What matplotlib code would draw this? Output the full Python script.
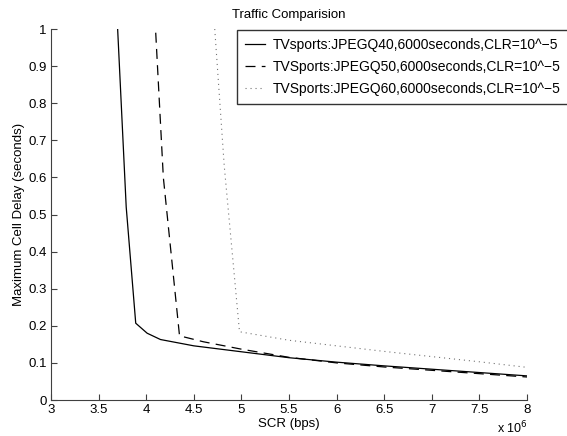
import matplotlib
matplotlib.use("Agg")
import matplotlib.pyplot as plt

plt.rcParams['font.family'] = ['Liberation Sans', 'DejaVu Sans']

# data (SCR in units of 1e6 bps, delay in seconds)
scr_q40 = [3.70, 3.79, 3.89, 4.01, 4.15, 4.5, 5.0, 5.5, 6.0, 6.5, 7.0, 7.5, 8.0]
delay_q40 = [1.0, 0.52, 0.207, 0.180, 0.163, 0.146, 0.130, 0.114, 0.102, 0.092, 0.083, 0.074, 0.065]

scr_q50 = [4.10, 4.18, 4.35, 4.6, 5.0, 5.5, 6.0, 6.5, 7.0, 7.5, 8.0]
delay_q50 = [0.99, 0.60, 0.173, 0.157, 0.137, 0.115, 0.100, 0.089, 0.080, 0.071, 0.062]

scr_q60 = [4.72, 4.82, 4.98, 5.5, 6.0, 6.5, 7.0, 7.5, 8.0]
delay_q60 = [1.0, 0.63, 0.184, 0.161, 0.146, 0.131, 0.117, 0.103, 0.088]

labels = ["TVsports:JPEGQ40,6000seconds,CLR=10^\u22125",
          "TVSports:JPEGQ50,6000seconds,CLR=10^\u22125",
          "TVSports:JPEGQ60,6000seconds,CLR=10^\u22125"]

xticks = [3, 3.5, 4, 4.5, 5, 5.5, 6, 6.5, 7, 7.5, 8]
yticks = [0, 0.1, 0.2, 0.3, 0.4, 0.5, 0.6, 0.7, 0.8, 0.9, 1]

W, H = 567, 436
fig = plt.figure(figsize=(W / 100, H / 100), dpi=100)
ax = fig.add_axes([51 / W, 1 - 400 / H, (527 - 51) / W, (400 - 29) / H])

l1, = ax.plot(scr_q40, delay_q40, color='black', lw=0.9, linestyle='-')
l2, = ax.plot(scr_q50, delay_q50, color='black', lw=0.9, linestyle=(0, (8, 5)))
l3, = ax.plot(scr_q60, delay_q60, color='0.45', lw=0.8, linestyle=(0, (1, 3.5)))

ax.set_xlim(3, 8)
ax.set_ylim(0, 1)
ax.set_xticks(xticks)
ax.set_xticklabels([f"{t:g}" for t in xticks])
ax.set_yticks(yticks)
ax.set_yticklabels([f"{t:g}" for t in yticks])

for s in ['top', 'right']:
    ax.spines[s].set_visible(False)
for s in ['left', 'bottom']:
    ax.spines[s].set_color('0.25')
    ax.spines[s].set_linewidth(0.8)
ax.tick_params(direction='in', length=4, width=0.8, color='0.25', labelsize=9.5, pad=3)

ax.set_xlabel("SCR (bps)", fontsize=9.5, labelpad=1)
ax.set_ylabel("Maximum Cell Delay (seconds)", fontsize=9.5)
ax.yaxis.set_label_coords((25 - 51) / 476, 0.5)
ax.set_title("Traffic Comparision", fontsize=9.5, pad=8)

fig.text(497 / W, 1 - 428 / H, r"x 10$^{6}$", fontsize=9, va='center', ha='left')

leg = fig.legend([l1, l2, l3], labels, loc='upper left',
                 bbox_to_anchor=(237 / W, 1 - 30 / H), borderaxespad=0,
                 fontsize=10, frameon=True, fancybox=False, handlelength=1.4,
                 handletextpad=0.6, labelspacing=0.55, borderpad=0.6)
leg.get_frame().set_edgecolor('black')
leg.get_frame().set_linewidth(1.0)

fig.savefig("out.png", dpi=100)
